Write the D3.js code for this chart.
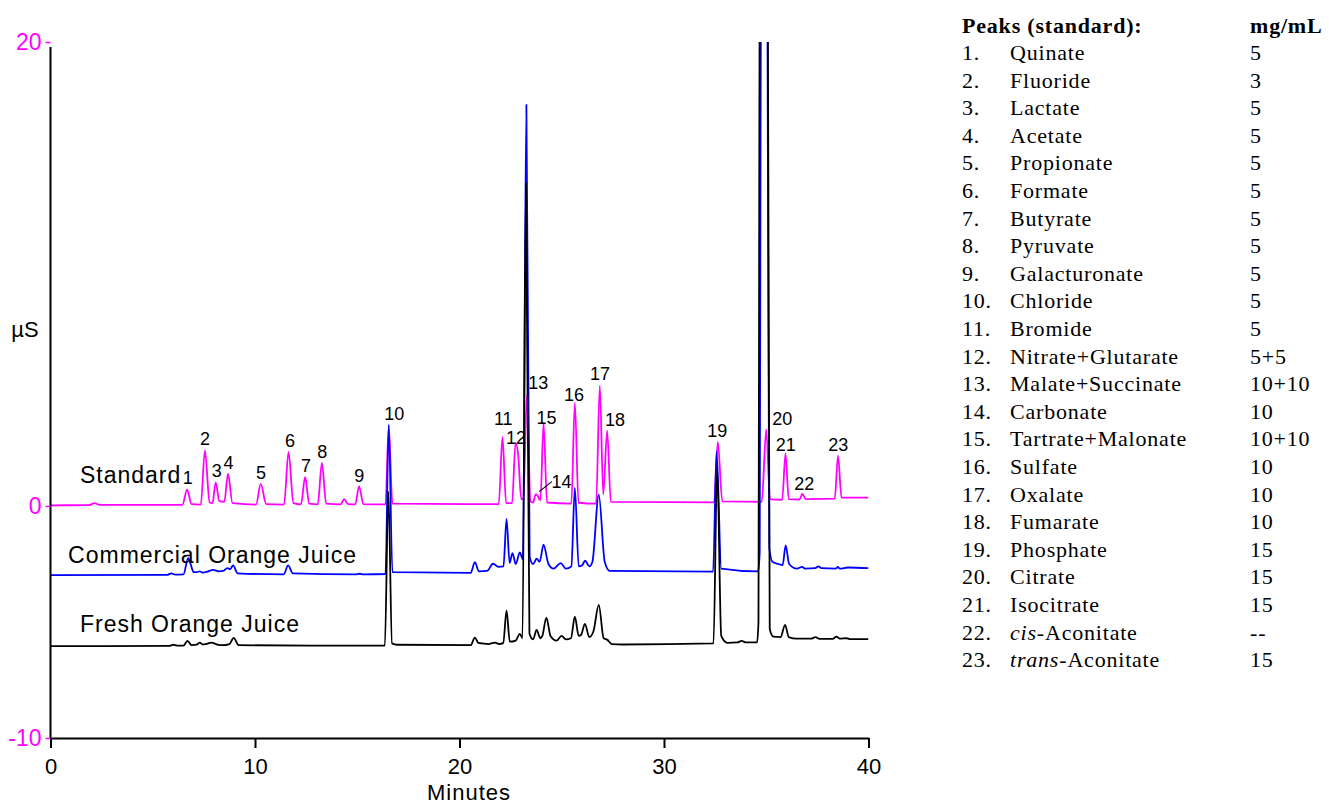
<!DOCTYPE html>
<html>
<head>
<meta charset="utf-8">
<script src="https://cdn.jsdelivr.net/npm/d3@7"></script>
<style>
  body { margin: 0; background: #fff; }
  svg { display: block; }
  .axis text { font-family: 'Liberation Sans', Arial, sans-serif; }
</style>
</head>
<body>
<div id="chart"></div>
<script>
// chromatogram traces, [minutes, µS]
const standard = [
  [0, 0.03], [1.9, 0.04], [2.15, 0.12], [2.4, 0.05],
  [6.45, 0.05], [6.68, 0.7], [6.9, 0.08],
  [7.35, 0.06], [7.55, 2.4], [7.78, 0.15],
  [7.92, 0.12], [8.08, 1.02], [8.25, 0.22],
  [8.5, 0.18], [8.68, 1.39], [8.9, 0.12],
  [10.05, 0.06], [10.28, 0.95], [10.55, 0.08],
  [11.42, 0.06], [11.64, 2.33], [11.88, 0.12],
  [12.25, 0.07], [12.45, 1.25], [12.65, 0.1],
  [13.07, 0.07], [13.27, 1.86], [13.48, 0.1],
  [14.2, 0.07], [14.36, 0.3], [14.55, 0.08],
  [14.9, 0.07], [15.09, 0.85], [15.3, 0.08],
  [16.38, 0.07], [16.54, 3.45], [16.72, 0.1],
  [21.92, 0.08], [22.1, 2.98], [22.28, 0.12],
  [22.57, 0.12], [22.74, 2.72], [22.87, 2.2], [23.02, 0.3],
  [23.12, 0.3], [23.3, 4.8], [23.47, 0.2],
  [23.6, 0.15], [23.72, 0.5], [23.82, 0.45], [23.9, 0.3],
  [23.96, 0.25], [24.11, 3.58], [24.28, 0.15],
  [25.47, 0.1], [25.64, 4.45], [25.82, 0.14],
  [26.68, 0.1], [26.86, 5.19], [27.03, 0.5], [27.22, 3.25], [27.4, 0.18],
  [32.45, 0.16], [32.63, 2.76], [32.85, 0.2],
  [34.78, 0.18], [35.0, 3.3], [35.18, 0.3],
  [35.78, 0.27], [35.94, 2.26], [36.1, 0.3],
  [36.62, 0.28], [36.77, 0.52], [36.93, 0.3],
  [38.35, 0.32], [38.51, 2.17], [38.68, 0.36],
  [40, 0.36]
]

const commercial = [
  [0, -2.98], [5.7, -2.97], [5.91, -2.9], [6.1, -2.96],
  [6.5, -2.95], [6.73, -2.25], [6.85, -2.5], [7.0, -2.85],
  [7.15, -2.85], [7.3, -2.82], [7.45, -2.87],
  [7.65, -2.84], [7.95, -2.75], [8.25, -2.82],
  [8.45, -2.8], [8.64, -2.68], [8.78, -2.72], [8.93, -2.56], [9.15, -2.9],
  [11.4, -2.95], [11.62, -2.56], [11.85, -2.9],
  [14.9, -2.95], [15.12, -2.92], [15.3, -2.95],
  [16.38, -2.93], [16.54, 3.51], [16.72, -2.85],
  [20.55, -2.88], [20.75, -2.42], [20.95, -2.82],
  [21.35, -2.8], [21.64, -2.49], [21.9, -2.62], [22.15, -2.6],
  [22.3, -0.56], [22.45, -2.45], [22.59, -2.03], [22.75, -2.5], [22.95, -2.0], [23.1, -2.3],
  [23.27, 17.3], [23.43, -2.2], [23.6, -2.5], [23.77, -2.27], [23.92, -2.4],
  [24.11, -1.67], [24.35, -2.5], [24.6, -2.7], [24.95, -2.46], [25.2, -2.7], [25.47, -2.6],
  [25.64, 0.78], [25.83, -2.6], [26.0, -2.55], [26.14, -2.36], [26.35, -2.6], [26.5, -2.4],
  [26.81, 0.49], [27.1, -2.4], [27.35, -2.8],
  [32.4, -2.83], [32.57, 2.36], [32.8, -2.7],
  [34.6, -2.82], [34.68, -2.0], [34.72, 15], [34.9, 60], [35.08, 15], [35.15, -1.8],
  [35.3, -2.4], [35.6, -2.5], [35.8, -2.55], [35.95, -1.7], [36.12, -2.5],
  [36.5, -2.7], [36.75, -2.62], [36.9, -2.7], [37.4, -2.68], [37.55, -2.6], [37.7, -2.68],
  [38.4, -2.7], [38.5, -2.63], [38.6, -2.7], [39.0, -2.65], [40, -2.68]
]

const fresh = [
  [0, -6.04], [5.8, -6.03], [6.0, -5.98], [6.2, -6.02],
  [6.5, -6.02], [6.7, -5.81], [6.9, -6.0],
  [7.15, -5.98], [7.3, -5.89], [7.45, -5.97],
  [7.6, -5.95], [7.87, -5.89], [8.15, -5.97], [8.4, -6.0],
  [8.75, -5.95], [8.96, -5.68], [9.2, -6.0],
  [16.35, -6.02], [16.52, 0.62], [16.7, -5.92], [16.95, -5.98],
  [20.55, -6.0], [20.75, -5.67], [20.92, -5.9], [21.1, -5.92], [21.4, -5.95], [21.73, -5.89], [21.95, -5.95],
  [22.14, -5.9], [22.3, -4.51], [22.46, -5.85], [22.75, -5.8], [22.95, -5.51], [23.08, -5.7],
  [23.25, 13.9], [23.42, -5.5], [23.6, -5.75], [23.77, -5.34], [23.95, -5.7], [24.05, -5.6],
  [24.25, -4.81], [24.45, -5.6], [24.75, -5.8], [24.99, -5.6], [25.2, -5.75], [25.45, -5.7],
  [25.64, -4.77], [25.83, -5.6], [25.95, -5.55], [26.13, -5.08], [26.35, -5.65], [26.55, -5.4],
  [26.81, -4.26], [27.05, -5.7], [27.22, -5.76], [27.45, -5.95], [28, -5.97],
  [32.42, -5.92], [32.6, 1.68], [32.8, -5.6], [33.1, -5.9], [33.6, -5.88], [33.79, -5.81], [34.0, -5.88],
  [34.55, -5.88], [34.62, -5.0], [34.66, 15], [34.88, 60], [35.1, 15], [35.17, -5.3],
  [35.35, -5.63], [35.7, -5.65], [35.92, -5.12], [36.1, -5.65], [36.5, -5.72],
  [37.2, -5.72], [37.41, -5.65], [37.6, -5.73],
  [38.25, -5.73], [38.43, -5.63], [38.6, -5.72], [38.92, -5.7], [39.1, -5.74], [40, -5.74]
]

const traceNames = ['Standard', 'Commercial Orange Juice', 'Fresh Orange Juice']
// where each trace name sits, in minutes / µS
const traceNameAt = [[1.44, 0.98], [0.86, -2.47], [1.44, -5.44]]

// peak number labels (centre, in minutes / µS)
const peakNums = d3.range(1, 24)
const peakLabelTime = [6.71, 7.55, 8.13, 8.71, 10.29, 11.71, 12.49, 13.29, 15.1, 16.81,
  22.14, 22.76, 23.85, 24.99, 24.26, 25.6, 26.87, 27.6, 32.6, 35.78, 35.96, 36.86, 38.52]
const peakLabelLevel = [1.21, 2.89, 1.52, 1.87, 1.42, 2.81, 1.72, 2.34, 1.29, 4.0,
  3.78, 2.96, 5.31, 1.05, 3.82, 4.81, 5.69, 3.74, 3.25, 3.78, 2.63, 0.95, 2.63]
const leader14 = [[23.9, 0.62], [24.51, 1.05]]

const xTicks = [0, 10, 20, 30, 40]
const yTicks = [-10, 0, 20]

const peakNames = ['Quinate', 'Fluoride', 'Lactate', 'Acetate', 'Propionate', 'Formate',
  'Butyrate', 'Pyruvate', 'Galacturonate', 'Chloride', 'Bromide', 'Nitrate+Glutarate',
  'Malate+Succinate', 'Carbonate', 'Tartrate+Malonate', 'Sulfate', 'Oxalate', 'Fumarate',
  'Phosphate', 'Citrate', 'Isocitrate', 'cis-Aconitate', 'trans-Aconitate']
const peakConc = ['5', '3', '5', '5', '5', '5', '5', '5', '5', '5', '5', '5+5',
  '10+10', '10', '10+10', '10', '10', '10', '15', '15', '15', '--', '15']

const colors = ['#ff00ff', '#0000ff', '#000000']

const svg = d3
  .select('#chart')
  .append('svg')
  .attr('width', 1329)
  .attr('height', 807)

const xPositionScale = d3.scaleLinear().domain([0, 40]).range([50.5, 868.5])
const yPositionScale = d3.scaleLinear().domain([-10, 20]).range([738, 42])

svg
  .append('clipPath')
  .attr('id', 'plot-clip')
  .append('rect')
  .attr('x', xPositionScale(0))
  .attr('y', yPositionScale(20))
  .attr('width', xPositionScale(40) - xPositionScale(0))
  .attr('height', yPositionScale(-10) - yPositionScale(20))

const line = d3
  .line()
  .x(d => xPositionScale(d[0]))
  .y(d => yPositionScale(d[1]))
  .curve(d3.curveMonotoneX)

// standard first, juices drawn over it
const traces = svg.append('g').attr('clip-path', 'url(#plot-clip)')
traces
  .selectAll('path')
  .data([standard, commercial, fresh])
  .enter()
  .append('path')
  .attr('d', line)
  .attr('fill', 'none')
  .attr('stroke', (d, i) => colors[i])
  .attr('stroke-width', 1.8)
  .attr('stroke-linejoin', 'round')

// axes
const xAxis = d3
  .axisBottom(xPositionScale)
  .tickValues(xTicks)
  .tickSize(10)
  .tickSizeOuter(0)
  .tickPadding(10)

svg
  .append('g')
  .attr('class', 'axis x-axis')
  .attr('transform', 'translate(0,' + yPositionScale(-10) + ')')
  .call(xAxis)

svg.selectAll('.x-axis text').attr('font-size', 22).attr('fill', '#000')
svg.selectAll('.x-axis line').attr('stroke', '#000').attr('stroke-width', 2)
svg.selectAll('.x-axis .domain').attr('stroke', '#000').attr('stroke-width', 2)

const yAxis = d3
  .axisLeft(yPositionScale)
  .tickValues(yTicks)
  .tickFormat(d => String(d))
  .tickSize(5)
  .tickSizeOuter(0)
  .tickPadding(4)

svg
  .append('g')
  .attr('class', 'axis y-axis')
  .attr('transform', 'translate(' + xPositionScale(0) + ',0)')
  .call(yAxis)

svg.selectAll('.y-axis text').attr('font-size', 23).attr('fill', '#ff00ff')
svg.selectAll('.y-axis line').attr('stroke', '#ff00ff').attr('stroke-width', 1.5)
svg
  .select('.y-axis .domain')
  .attr('d', 'M0,' + (yPositionScale(20) + 5) + 'V' + yPositionScale(-10))
  .attr('stroke', '#000')
  .attr('stroke-width', 2)

svg
  .append('text')
  .text('Minutes')
  .attr('x', 469)
  .attr('y', 800)
  .attr('text-anchor', 'middle')
  .attr('font-family', "'Liberation Sans', Arial, sans-serif")
  .attr('font-size', 22)
  .attr('letter-spacing', 1)

svg
  .append('text')
  .text('µS')
  .attr('x', 25)
  .attr('y', 337)
  .attr('text-anchor', 'middle')
  .attr('font-family', "'Liberation Sans', Arial, sans-serif")
  .attr('font-size', 22)

// trace names
svg
  .selectAll('.trace-name')
  .data(traceNames)
  .enter()
  .append('text')
  .attr('class', 'trace-name')
  .text(d => d)
  .attr('x', (d, i) => xPositionScale(traceNameAt[i][0]))
  .attr('y', (d, i) => yPositionScale(traceNameAt[i][1]))
  .attr('font-family', "'Liberation Sans', Arial, sans-serif")
  .attr('font-size', 23)
  .attr('letter-spacing', 1)

// peak numbers
svg
  .selectAll('.peak-num')
  .data(peakNums)
  .enter()
  .append('text')
  .attr('class', 'peak-num')
  .text(d => d)
  .attr('x', (d, i) => xPositionScale(peakLabelTime[i]))
  .attr('y', (d, i) => yPositionScale(peakLabelLevel[i]))
  .attr('dy', '0.35em')
  .attr('text-anchor', 'middle')
  .attr('font-family', "'Liberation Sans', Arial, sans-serif")
  .attr('font-size', 18)

svg
  .append('path')
  .attr('d', d3.line().x(d => xPositionScale(d[0])).y(d => yPositionScale(d[1]))(leader14))
  .attr('stroke', '#000')
  .attr('stroke-width', 1.2)

// peak table
const legend = svg
  .append('g')
  .attr('font-family', "'Liberation Serif', 'Times New Roman', serif")
  .attr('font-size', 22)
  .attr('letter-spacing', 0.8)

legend
  .append('text')
  .text('Peaks (standard):')
  .attr('x', 962)
  .attr('y', 33)
  .attr('font-weight', 'bold')

legend
  .append('text')
  .text('mg/mL')
  .attr('x', 1250)
  .attr('y', 33)
  .attr('font-weight', 'bold')

const rows = legend
  .selectAll('.row')
  .data(peakNames)
  .enter()
  .append('g')
  .attr('class', 'row')
  .attr('transform', (d, i) => 'translate(0,' + (60 + i * 27.6) + ')')

rows
  .append('text')
  .text((d, i) => i + 1 + '.')
  .attr('x', 962)

rows.each(function(d) {
  const t = d3.select(this).append('text').attr('x', 1010)
  const m = d.match(/^(cis|trans)(-.*)$/)
  if (m) {
    t.append('tspan').attr('font-style', 'italic').text(m[1])
    t.append('tspan').text(m[2])
  } else {
    t.text(d)
  }
})

rows
  .append('text')
  .text((d, i) => peakConc[i])
  .attr('x', 1250)
</script>
</body>
</html>
